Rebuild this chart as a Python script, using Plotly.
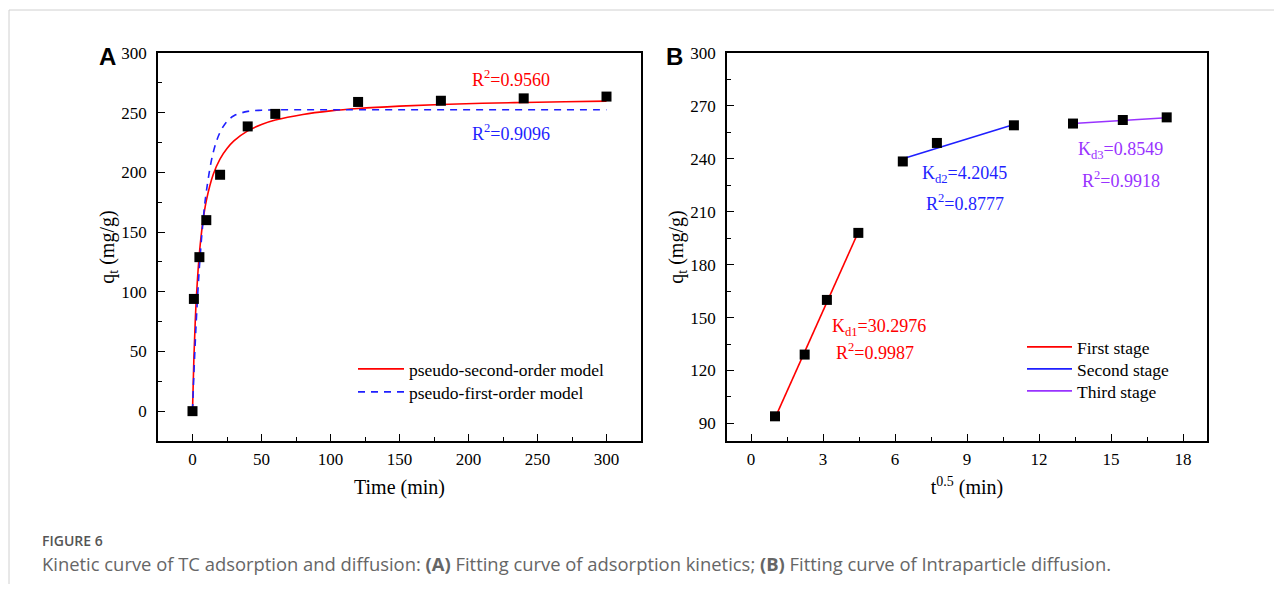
import plotly.graph_objects as go

OFF = 8  # page body margin
W, H = 1282 - 2 * OFF, 592 - 2 * OFF

# ---------------- data ----------------
# Panel A: adsorption kinetics
time_min = [0, 1, 5, 10, 20, 40, 60, 120, 180, 240, 300]
qt_exp = [0, 94, 129, 160, 198, 238.5, 249, 259, 260, 262, 263.5]

fit_t = [0, 1, 2, 3, 5, 7.5, 10, 15, 20, 25, 30, 40, 50, 60, 80, 100, 120, 150, 180, 210, 240, 270, 300]
pso_q = [0, 44.1, 75.6, 99.2, 132.3, 158.6, 176.2, 198.2, 211.4, 220.0, 226.4, 234.8, 240.1, 243.8,
         248.5, 251.5, 253.5, 255.5, 256.9, 257.9, 258.6, 259.2, 259.7]
pfo_q = [0, 30.8, 57.8, 81.5, 120.7, 157.3, 183.7, 216.6, 233.7, 242.7, 247.4, 251.1, 252.1, 252.4,
         252.5, 252.5, 252.5, 252.5, 252.5, 252.5, 252.5, 252.5, 252.5]

# Panel B: intraparticle diffusion
sqrt_t = [1.0, 2.236, 3.162, 4.472, 6.325, 7.746, 10.954, 13.416, 15.492, 17.321]
qt_b = [94, 129, 160, 198, 238.5, 249, 259, 260, 262, 263.5]

stage1_x = [1.0, 4.472]
stage1_y = [93, 198.5]
stage2_x = [6.325, 10.954]
stage2_y = [240, 259.5]
stage3_x = [13.416, 17.321]
stage3_y = [260, 263.3]

RED = "#ff0000"
BLUE = "#1f1fff"
PURPLE = "#9933ff"
SERIF = "Liberation Serif, Times New Roman, serif"

fig = go.Figure()
fig.add_trace(go.Scatter(x=fit_t, y=pso_q, mode="lines", line=dict(color=RED, width=1.6, shape="spline"),
                         name="pseudo-second-order model", xaxis="x", yaxis="y", legend="legend"))
fig.add_trace(go.Scatter(x=fit_t, y=pfo_q, mode="lines",
                         line=dict(color=BLUE, width=1.6, dash="7px,6px", shape="spline"),
                         name="pseudo-first-order model", xaxis="x", yaxis="y", legend="legend2"))
fig.add_trace(go.Scatter(x=time_min, y=qt_exp, mode="markers",
                         marker=dict(symbol="square", size=10, color="black"),
                         showlegend=False, xaxis="x", yaxis="y"))
fig.add_trace(go.Scatter(x=stage1_x, y=stage1_y, mode="lines", line=dict(color=RED, width=1.6),
                         name="First stage", xaxis="x2", yaxis="y2", legend="legend3"))
fig.add_trace(go.Scatter(x=stage2_x, y=stage2_y, mode="lines", line=dict(color=BLUE, width=1.6),
                         name="Second stage", xaxis="x2", yaxis="y2", legend="legend4"))
fig.add_trace(go.Scatter(x=stage3_x, y=stage3_y, mode="lines", line=dict(color=PURPLE, width=1.6),
                         name="Third stage", xaxis="x2", yaxis="y2", legend="legend5"))
fig.add_trace(go.Scatter(x=sqrt_t, y=qt_b, mode="markers",
                         marker=dict(symbol="square", size=10, color="black"),
                         showlegend=False, xaxis="x2", yaxis="y2"))

def px_x(p):
    return (p - OFF) / W

def px_y(p):
    return 1 - (p - OFF) / H

ydom = [px_y(441), px_y(53)]

axis_common = dict(
    showline=True, linecolor="black", linewidth=1.5, mirror=True,
    ticks="inside", ticklen=7, tickwidth=1.3, tickcolor="black",
    showgrid=False, zeroline=False, automargin=False,
    tickfont=dict(family=SERIF, size=17, color="black"),
    title_font=dict(family=SERIF, size=20, color="black"),
)
minor = lambda d, t0: dict(ticks="inside", ticklen=4, dtick=d, tick0=t0, tickcolor="black", tickwidth=1.2)

def leg(xp, row_center, iw):
    return dict(x=px_x(xp), y=px_y(row_center - 20), xanchor="left", yanchor="top",
                bgcolor="rgba(0,0,0,0)", font=dict(family=SERIF, size=17.5, color="black"),
                tracegroupgap=0, itemwidth=iw)

fig.update_layout(
    width=W, height=H,
    paper_bgcolor="white", plot_bgcolor="white",
    margin=dict(l=0, r=0, t=0, b=0, autoexpand=False),
    showlegend=True,
    xaxis=dict(axis_common, domain=[px_x(158), px_x(641)], range=[-25, 325],
               tickmode="linear", tick0=0, dtick=50, minor=minor(25, 0),
               title=dict(text="Time (min)", standoff=12), anchor="y", ticklabelstandoff=2),
    yaxis=dict(axis_common, domain=ydom, range=[-25, 300],
               tickmode="linear", tick0=0, dtick=50, minor=minor(25, 0),
               title=dict(text="q<sub>t</sub> (mg/g)", standoff=0), anchor="x", ticklabelstandoff=6),
    xaxis2=dict(axis_common, domain=[px_x(727), px_x(1207)], range=[-1, 19],
                tickmode="linear", tick0=0, dtick=3, minor=minor(1.5, 0),
                title=dict(text="t<sup>0.5</sup> (min)", standoff=12), anchor="y2", ticklabelstandoff=2),
    yaxis2=dict(axis_common, domain=ydom, range=[80, 300],
                tickmode="linear", tick0=90, dtick=30, minor=minor(15, 90),
                title=dict(text="q<sub>t</sub> (mg/g)", standoff=0), anchor="x2", ticklabelstandoff=6),
    legend=leg(353, 371, 46),
    legend2=leg(353, 394, 46),
    legend3=leg(1022, 349, 45),
    legend4=leg(1022, 371, 45),
    legend5=leg(1022, 393, 45),
)

ann_font = lambda c: dict(family=SERIF, size=18, color=c)
annotations = [
    dict(text="R<sup>2</sup>=0.9560", x=231, y=279, xref="x", yref="y", showarrow=False, font=ann_font(RED)),
    dict(text="R<sup>2</sup>=0.9096", x=231, y=233, xref="x", yref="y", showarrow=False, font=ann_font(BLUE)),
    dict(text="K<sub>d1</sub>=30.2976", x=5.35, y=144.5, xref="x2", yref="y2", showarrow=False, font=ann_font(RED)),
    dict(text="R<sup>2</sup>=0.9987", x=5.15, y=130.5, xref="x2", yref="y2", showarrow=False, font=ann_font(RED)),
    dict(text="K<sub>d2</sub>=4.2045", x=8.9, y=231, xref="x2", yref="y2", showarrow=False, font=ann_font(BLUE)),
    dict(text="R<sup>2</sup>=0.8777", x=8.9, y=215.5, xref="x2", yref="y2", showarrow=False, font=ann_font(BLUE)),
    dict(text="K<sub>d3</sub>=0.8549", x=15.4, y=244.5, xref="x2", yref="y2", showarrow=False, font=ann_font(PURPLE)),
    dict(text="R<sup>2</sup>=0.9918", x=15.4, y=228.5, xref="x2", yref="y2", showarrow=False, font=ann_font(PURPLE)),
    dict(text="<b>A</b>", x=px_x(107), y=px_y(57), xref="paper", yref="paper", showarrow=False,
         xanchor="center", yanchor="middle", font=dict(family="Liberation Sans, Arial", size=24, color="black")),
    dict(text="<b>B</b>", x=px_x(674), y=px_y(57), xref="paper", yref="paper", showarrow=False,
         xanchor="center", yanchor="middle", font=dict(family="Liberation Sans, Arial", size=24, color="black")),
    dict(text="FIGURE 6", x=px_x(40), y=px_y(540), xref="paper", yref="paper", showarrow=False,
         xanchor="left", yanchor="middle", font=dict(family="Open Sans", size=14, color="#555555", weight=600)),
    dict(text="Kinetic curve of TC adsorption and diffusion: <b>(A)</b> Fitting curve of adsorption kinetics; "
              "<b>(B)</b> Fitting curve of Intraparticle diffusion.",
         x=px_x(40), y=px_y(563), xref="paper", yref="paper", showarrow=False,
         xanchor="left", yanchor="middle", font=dict(family="Open Sans", size=18.4, color="#666666")),
]
fig.update_layout(annotations=annotations)

fig.add_shape(type="rect", xref="paper", yref="paper",
              x0=px_x(9), x1=1.05, y0=-0.05, y1=px_y(10),
              line=dict(color="#d0d0d0", width=1), fillcolor="rgba(0,0,0,0)", layer="below")

fig.write_html("out.html")
